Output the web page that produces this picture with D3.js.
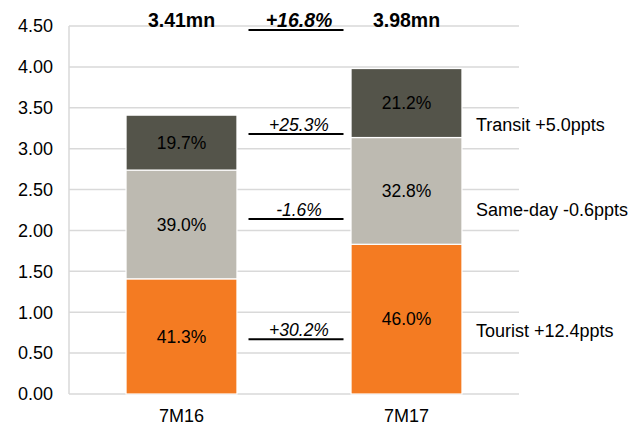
<!DOCTYPE html>
<html lang="en">
<head>
    <meta charset="UTF-8">
    <title>Visitor arrivals 7M16 vs 7M17</title>
    <script src="https://d3js.org/d3.v7.js"></script>
    <style>
        body { margin: 0; background: white; }
        text { font-family: "Liberation Sans", Arial, sans-serif; fill: #000; }
    </style>
</head>
<body>
<script>
    // data
    const categories = ["7M16", "7M17"];
    const segments = ["Tourist", "Same-day", "Transit"];
    const totals = [3.41, 3.98];
    const touristShare = [41.3, 46.0];
    const samedayShare = [39.0, 32.8];
    const transitShare = [19.7, 21.2];
    const segmentGrowth = ["+30.2%", "-1.6%", "+25.3%"];
    const pptsChange = ["+12.4ppts", "-0.6ppts", "+5.0ppts"];
    const totalLabels = ["3.41mn", "3.98mn"];
    const totalGrowth = "+16.8%";
    const yTicks = [0, 0.5, 1, 1.5, 2, 2.5, 3, 3.5, 4, 4.5];

    const colors = {"Tourist": "#F47B22", "Same-day": "#BDBAB1", "Transit": "#54544A"};

    const W = 644, H = 427;
    const margin = {top: 26, right: 125, bottom: 33, left: 69};
    const width = W - margin.left - margin.right,
        height = H - margin.top - margin.bottom;

    const svg = d3.select("body")
        .append("svg")
        .attr("width", W)
        .attr("height", H);
    const g = svg.append("g")
        .attr("transform", `translate(${margin.left},${margin.top})`);

    const shares = {"Tourist": touristShare, "Same-day": samedayShare, "Transit": transitShare};
    const rows = categories.map((c, i) => {
        const row = {cat: c};
        segments.forEach(s => { row[s] = totals[i] * shares[s][i] / 100; });
        return row;
    });
    const stacked = d3.stack().keys(segments)(rows);

    const x = d3.scaleBand().domain(categories).range([0, width]).paddingInner(0.507).paddingOuter(0.2535);
    const y = d3.scaleLinear().domain([0, 4.5]).range([height, 0]);

    // gridlines
    g.append("g")
        .selectAll("line")
        .data(yTicks)
        .join("line")
        .attr("x1", 0).attr("x2", width)
        .attr("y1", d => y(d)).attr("y2", d => y(d))
        .attr("stroke", "#D9D9D9")
        .attr("stroke-width", 1.5);
    g.append("line")
        .attr("x1", 0).attr("x2", 0)
        .attr("y1", 0).attr("y2", height)
        .attr("stroke", "#D9D9D9")
        .attr("stroke-width", 1.5);

    // y axis labels
    g.append("g")
        .selectAll("text")
        .data(yTicks)
        .join("text")
        .attr("x", -16)
        .attr("y", d => y(d))
        .attr("dy", "0.35em")
        .attr("text-anchor", "end")
        .style("font-size", "18px")
        .text(d => d.toFixed(2));

    // bars
    const layer = g.selectAll(".layer")
        .data(stacked)
        .join("g")
        .attr("class", "layer")
        .attr("fill", d => colors[d.key]);

    layer.selectAll("rect")
        .data(d => d)
        .join("rect")
        .attr("x", d => x(d.data.cat))
        .attr("width", x.bandwidth())
        .attr("y", d => y(d[1]))
        .attr("height", d => y(d[0]) - y(d[1]))
        .attr("stroke", "white")
        .attr("stroke-width", 1.2);

    layer.selectAll("text")
        .data(d => d.map((v, i) => ({v, i, key: d.key})))
        .join("text")
        .attr("x", d => x(d.v.data.cat) + x.bandwidth() / 2)
        .attr("y", d => y((d.v[0] + d.v[1]) / 2))
        .attr("dy", "0.35em")
        .attr("text-anchor", "middle")
        .style("font-size", "17.5px")
        .text(d => shares[d.key][d.i].toFixed(1) + "%");

    // x labels
    g.append("g")
        .selectAll("text")
        .data(categories)
        .join("text")
        .attr("x", d => x(d) + x.bandwidth() / 2)
        .attr("y", height + 22)
        .attr("dy", "0.35em")
        .attr("text-anchor", "middle")
        .style("font-size", "18px")
        .text(d => d);

    // totals on top
    g.append("g")
        .selectAll("text")
        .data(totalLabels)
        .join("text")
        .attr("x", (d, i) => x(categories[i]) + x.bandwidth() / 2)
        .attr("y", -6)
        .attr("dy", "0.35em")
        .attr("text-anchor", "middle")
        .style("font-size", "19.5px")
        .style("font-weight", "bold")
        .text(d => d);

    // growth annotations between bars
    const midX = (x(categories[0]) + x.bandwidth() + x(categories[1])) / 2 + 2;
    const lineHalf = 47.5;
    const rowLevels = [0.78, 2.25, 3.29];   // label rows, in axis units
    const rowY = rowLevels.map(v => y(v));

    g.append("text")
        .attr("x", midX + 3)
        .attr("y", -6)
        .attr("dy", "0.35em")
        .attr("text-anchor", "middle")
        .style("font-size", "19.5px")
        .style("font-weight", "bold")
        .style("font-style", "italic")
        .text(totalGrowth);
    g.append("line")
        .attr("x1", midX - lineHalf).attr("x2", midX + lineHalf)
        .attr("y1", 4).attr("y2", 4)
        .attr("stroke", "#000").attr("stroke-width", 2);

    const ann = g.append("g")
        .selectAll("g")
        .data(segmentGrowth)
        .join("g")
        .attr("transform", (d, i) => `translate(${midX},${rowY[i]})`);
    ann.append("text")
        .attr("x", 3)
        .attr("dy", "0.35em")
        .attr("text-anchor", "middle")
        .style("font-size", "17.5px")
        .style("font-style", "italic")
        .text(d => d);
    ann.append("line")
        .attr("x1", -lineHalf).attr("x2", lineHalf)
        .attr("y1", 9).attr("y2", 9)
        .attr("stroke", "#000").attr("stroke-width", 2);

    // right side labels
    g.append("g")
        .selectAll("text")
        .data(segments)
        .join("text")
        .attr("x", x(categories[1]) + x.bandwidth() + 14)
        .attr("y", (d, i) => rowY[i])
        .attr("dy", "0.35em")
        .style("font-size", "18px")
        .text((d, i) => d + " " + pptsChange[i]);
</script>
</body>
</html>
